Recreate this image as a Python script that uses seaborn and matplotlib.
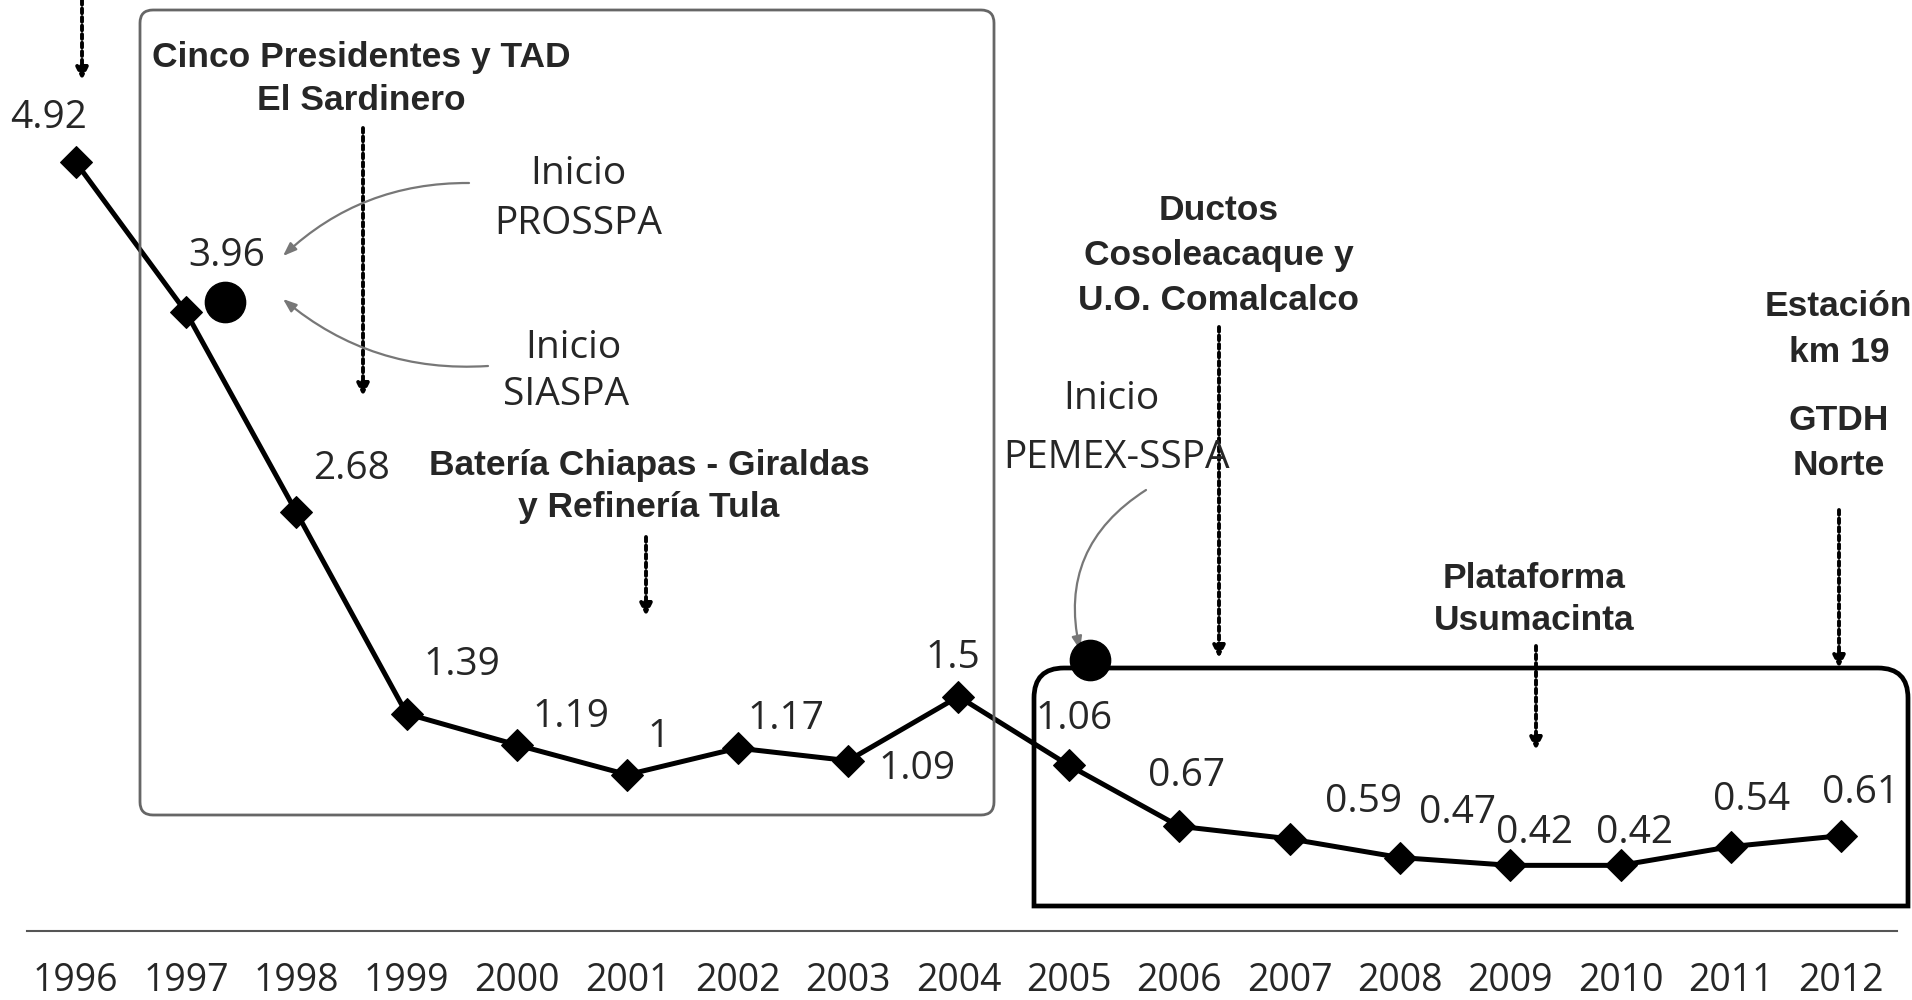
import matplotlib
matplotlib.use("Agg")
import matplotlib.pyplot as plt
import seaborn as sns
import pandas as pd
from matplotlib.patches import FancyBboxPatch, PathPatch
from matplotlib.path import Path
from matplotlib.lines import Line2D

# datos
years = list(range(1996, 2013))
values = [4.92, 3.96, 2.68, 1.39, 1.19, 1.0, 1.17, 1.09, 1.5,
          1.06, 0.67, 0.59, 0.47, 0.42, 0.42, 0.54, 0.61]
value_labels = ["4.92", "3.96", "2.68", "1.39", "1.19", "1", "1.17", "1.09", "1.5",
                "1.06", "0.67", "0.59", "0.47", "0.42", "0.42", "0.54", "0.61"]
year_labels = [str(y) for y in years]

# desplazamiento de cada etiqueta (pixeles)
label_dx = [-27, 41, 55, 55, 54, 31, 48, 69, -6, 5, 7, 74, 58, 24, 14, 21, 19]
label_dy = [44, 56, 43, 49, 28, 38, 29, -8, 39, 46, 50, 37, 45, 32, 32, 47, 43]

W, H = 1912, 1000
sns.set_style("white")
plt.rcParams['font.family'] = ['Open Sans', 'DejaVu Sans']
BOLD = ['Liberation Sans', 'DejaVu Sans']

fig = plt.figure(figsize=(W / 100, H / 100), dpi=100)
ax = fig.add_axes([0, 69 / H, 1, 931 / H])

df = pd.DataFrame({"year": years, "value": values})
sns.lineplot(data=df, x="year", y="value", ax=ax, color="black", lw=3.6,
             marker="D", markersize=16, markeredgecolor="black")

ax.set_xlim(1995.315, 1995.315 + W / 110.36)
ax.set_ylim(0, 931 / 156.3)
ax.set_yticks([])
ax.set_xticks(years)
ax.set_xticklabels(year_labels, fontsize=27)
ax.set_xticks([y + 0.5 for y in range(1995, 2012)], minor=True)
ax.tick_params(axis="x", which="both", direction="in", length=7, width=1.2,
               color="#555", pad=22)
ax.set_xlabel("")
ax.set_ylabel("")
for s in ["left", "top", "right"]:
    ax.spines[s].set_visible(False)
ax.spines["bottom"].set_bounds(1995.56, 2012.5)
ax.spines["bottom"].set_color("#555")
ax.spines["bottom"].set_linewidth(1.5)

for x, v, lab, dx, dy in zip(years, values, value_labels, label_dx, label_dy):
    ax.annotate(lab, (x, v), xytext=(dx, dy), textcoords="offset pixels",
                ha="center", va="center", fontsize=28)


def fp(x, y):
    return (x, H - y)


# recuadros
tr = fig.dpi_scale_trans
box1 = FancyBboxPatch((140 / 100, (H - 815) / 100), 854 / 100, 805 / 100,
                      boxstyle="round,pad=0,rounding_size=0.13",
                      transform=tr, fill=False, ec="#666", lw=2)
fig.add_artist(box1)

x0, x1, yt, yb, r = 1034, 1908, 668, 906, 30
pts = [(x0, yb), (x0, yt + r), (x0, yt), (x0 + r, yt), (x1 - r, yt), (x1, yt),
       (x1, yt + r), (x1, yb), (x0, yb)]
codes = [Path.MOVETO, Path.LINETO, Path.CURVE3, Path.CURVE3, Path.LINETO,
         Path.CURVE3, Path.CURVE3, Path.LINETO, Path.CLOSEPOLY]
box2 = PathPatch(Path([(px / 100, (H - py) / 100) for px, py in pts], codes),
                 transform=tr, fill=False, ec="black", lw=3.4)
fig.add_artist(box2)

# circulos de inicio
for cx, cy in [(225, 302), (1090, 660)]:
    fig.add_artist(Line2D([cx / W], [1 - cy / H], marker="o", markersize=29,
                          color="black", transform=fig.transFigure))

# textos en negrita
bold_lines = [
    ("Cinco Presidentes y TAD", 361, 57), ("El Sardinero", 361, 101),
    ("Batería Chiapas - Giraldas", 649, 465), ("y Refinería Tula", 649, 507),
    ("Ductos", 1219, 211), ("Cosoleacaque y", 1219, 256), ("U.O. Comalcalco", 1219, 300),
    ("Estación", 1838, 307), ("km 19", 1839, 352),
    ("GTDH", 1839, 421), ("Norte", 1839, 465),
    ("Plataforma", 1534, 578), ("Usumacinta", 1534, 621),
]
for s, x, y in bold_lines:
    fig.text(x / W, 1 - y / H, s, ha="center", va="center", fontsize=25.5,
             fontweight="bold", family=BOLD)

reg_lines = [
    ("Inicio", 578, 174), ("PROSSPA", 578, 224),
    ("Inicio", 573, 348), ("SIASPA", 566, 395),
    ("Inicio", 1111, 399), ("PEMEX-SSPA", 1117, 458),
]
for s, x, y in reg_lines:
    fig.text(x / W, 1 - y / H, s, ha="center", va="center", fontsize=28,
             color="#262626")

# flechas punteadas
for x, y0, y1 in [(82, 0, 80), (363, 128, 396), (646, 537, 616),
                  (1219, 327, 658), (1839, 510, 668), (1536, 646, 750)]:
    ax.annotate("", xy=fp(x, y1), xytext=fp(x, y0), xycoords="figure pixels",
                textcoords="figure pixels",
                arrowprops=dict(arrowstyle="-|>,head_width=0.35,head_length=0.7",
                                lw=2.8, ls=(0, (1.2, 1)), color="black",
                                shrinkA=0, shrinkB=0))

# flechas curvas
for (xa, ya), (xb, yb), rad in [((469, 183), (283, 256), 0.2),
                                ((488, 366), (283, 299), -0.2),
                                ((1146, 490), (1080, 650), 0.35)]:
    ax.annotate("", xy=fp(xb, yb), xytext=fp(xa, ya), xycoords="figure pixels",
                textcoords="figure pixels",
                arrowprops=dict(arrowstyle="-|>,head_width=0.3,head_length=0.8",
                                lw=1.6, color="#777", shrinkA=0, shrinkB=0,
                                connectionstyle=f"arc3,rad={rad}"))

fig.savefig("out.png", dpi=100)
